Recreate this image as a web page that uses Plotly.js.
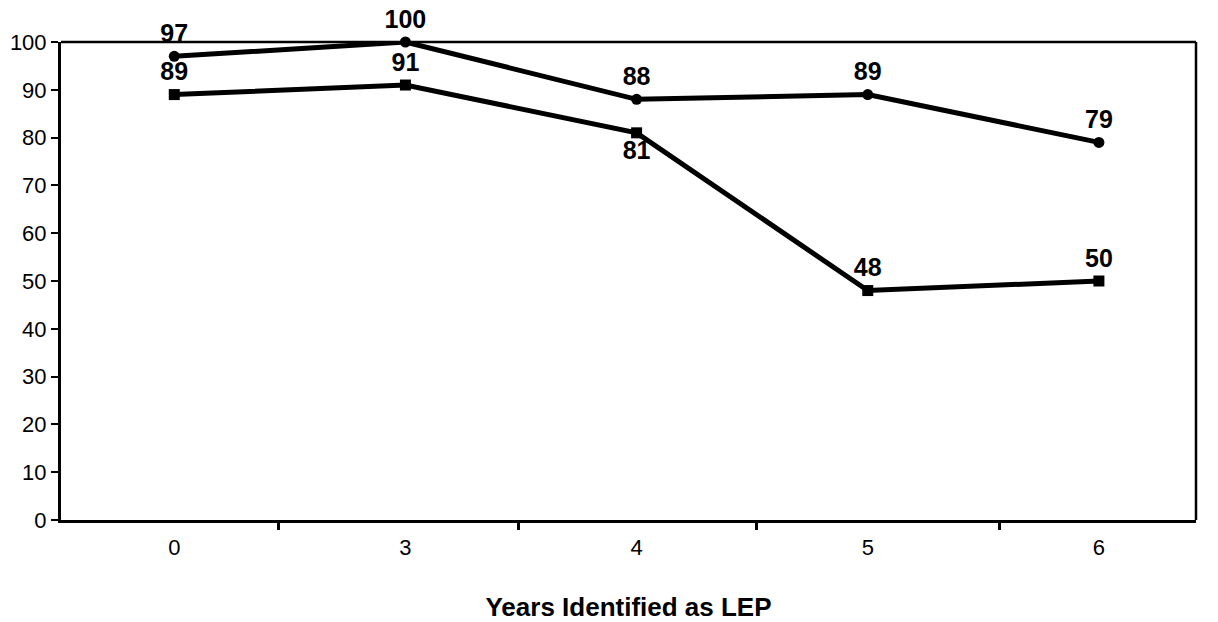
<!DOCTYPE html>
<html>
<head>
<meta charset="utf-8">
<script src="https://cdn.plot.ly/plotly-3.0.1.min.js"></script>
<style>html,body{margin:0;padding:0;background:#fff;}#chart{width:1218px;height:622px;}</style>
</head>
<body>
<div id="chart"></div>
<script>
const categories = ["0", "3", "4", "5", "6"];
const seriesCircle = [97, 100, 88, 89, 79];
const seriesSquare = [89, 91, 81, 48, 50];
const circleLabelPos = ["top center", "top center", "top center", "top center", "top center"];
const squareLabelPos = ["top center", "top center", "bottom center", "top center", "top center"];

const font = "Liberation Sans, Arial, sans-serif";
const xIdx = categories.map((_, i) => i);

const traces = [
  {
    x: xIdx, y: seriesCircle, type: "scatter", mode: "lines+markers+text",
    line: {color: "#000", width: 5},
    marker: {symbol: "circle", size: 11, color: "#000"},
    text: seriesCircle.map(String), textposition: circleLabelPos,
    textfont: {family: font, size: 25, color: "#000", weight: "bold"},
    cliponaxis: false, hoverinfo: "skip", showlegend: false
  },
  {
    x: xIdx, y: seriesSquare, type: "scatter", mode: "lines+markers+text",
    line: {color: "#000", width: 5},
    marker: {symbol: "square", size: 11, color: "#000"},
    text: seriesSquare.map(String), textposition: squareLabelPos,
    textfont: {family: font, size: 25, color: "#000", weight: "bold"},
    cliponaxis: false, hoverinfo: "skip", showlegend: false
  }
];

const layout = {
  width: 1218, height: 622,
  margin: {l: 61, r: 22, t: 42, b: 102},
  paper_bgcolor: "#fff", plot_bgcolor: "#fff",
  font: {family: font, size: 22, color: "#000"},
  xaxis: {
    type: "linear",
    range: [-0.49, 4.42],
    tickmode: "array", tickvals: xIdx, ticktext: categories,
    ticks: "", showgrid: false, zeroline: false,
    showline: true, linecolor: "#000", linewidth: 3,
    mirror: false,
    tickfont: {family: font, size: 22, color: "#000"},
    ticklabelstandoff: 6,
    title: {text: "<b>Years Identified as LEP</b>", font: {family: font, size: 26, color: "#000"}, standoff: 40}
  },
  xaxis2: {
    overlaying: "x", matching: "x", side: "bottom", anchor: "y",
    range: [-0.49, 4.42],
    tickmode: "array", tickvals: [0.45, 1.49, 2.52, 3.57], ticktext: ["", "", "", ""],
    ticks: "outside", ticklen: 9, tickwidth: 3, tickcolor: "#000",
    showgrid: false, zeroline: false, showline: false, showticklabels: false
  },
  yaxis: {
    range: [0, 100], dtick: 10, tick0: 0,
    ticks: "outside", ticklen: 7, tickwidth: 2, tickcolor: "#000",
    showgrid: false, zeroline: false,
    showline: true, linecolor: "#000", linewidth: 3,
    tickfont: {family: font, size: 22, color: "#000"},
    ticklabelstandoff: 0
  },
  shapes: [
    {type: "line", xref: "paper", yref: "paper", x0: 0, x1: 1, y0: 1, y1: 1, line: {color: "#000", width: 2.5}},
    {type: "line", xref: "paper", yref: "paper", x0: 1, x1: 1, y0: 0, y1: 1, line: {color: "#000", width: 2.5}}
  ]
};

// invisible trace to activate xaxis2, which draws the boundary ticks
traces.push({x: [0], y: [0], xaxis: "x2", yaxis: "y", mode: "markers", marker: {opacity: 0}, hoverinfo: "skip", showlegend: false});

Plotly.newPlot("chart", traces, layout, {displayModeBar: false, staticPlot: true});
</script>
</body>
</html>
